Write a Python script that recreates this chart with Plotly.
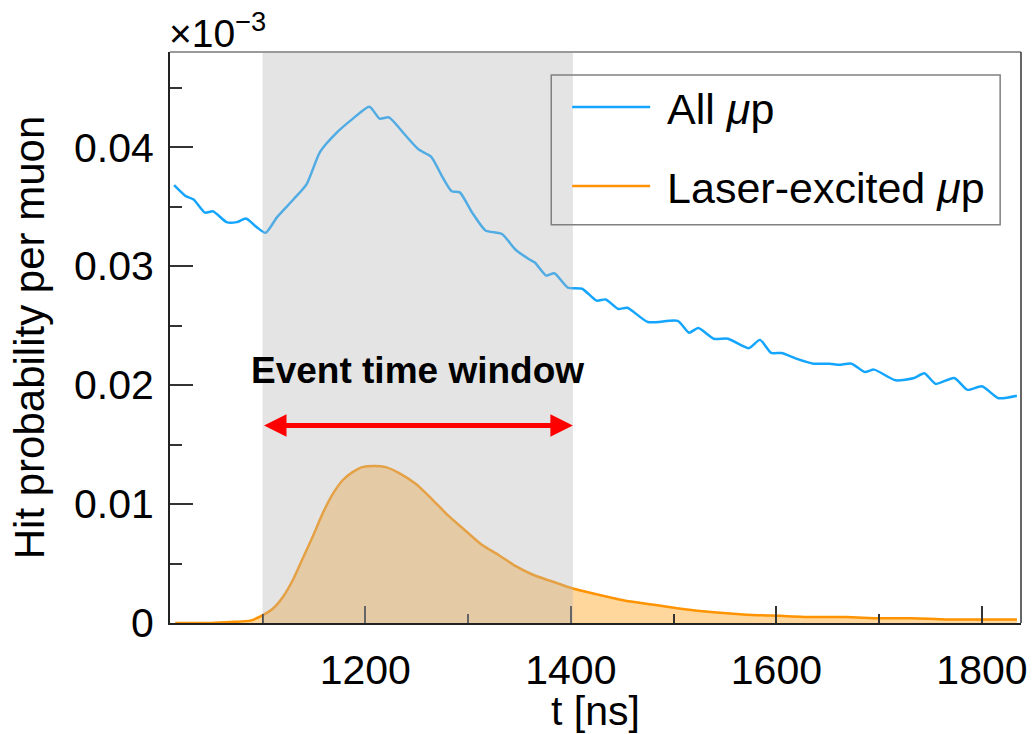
import plotly.graph_objects as go

# Time axis (ns) and hit probability per muon for all muonic hydrogen
t_all = [1014, 1025, 1033, 1044, 1052, 1065, 1075, 1084, 1094, 1103, 1114, 1130,
         1143, 1156, 1172, 1188, 1204, 1214, 1223, 1239, 1252, 1264, 1275, 1284,
         1292, 1304, 1317, 1333, 1346, 1359, 1365, 1376, 1384, 1397, 1411, 1425,
         1434, 1446, 1455, 1475, 1504, 1515, 1524, 1539, 1553, 1573, 1584, 1595,
         1605, 1620, 1636, 1652, 1661, 1673, 1686, 1695, 1716, 1734, 1744, 1755,
         1773, 1786, 1800, 1816, 1834]
p_all = [0.0368, 0.0359, 0.0356, 0.0345, 0.0346, 0.0337, 0.0337, 0.0340, 0.0333,
         0.0328, 0.0341, 0.0356, 0.0369, 0.0396, 0.0412, 0.0424, 0.0434, 0.0424,
         0.0425, 0.0410, 0.0398, 0.0392, 0.0375, 0.0363, 0.0362, 0.0345, 0.0330,
         0.0327, 0.0314, 0.0306, 0.0303, 0.0292, 0.0294, 0.0282, 0.0281, 0.0271,
         0.0272, 0.0264, 0.0265, 0.0253, 0.0254, 0.0244, 0.0248, 0.0239, 0.0239,
         0.0231, 0.0238, 0.0227, 0.0227, 0.0222, 0.0218, 0.0218, 0.0217, 0.0218,
         0.0211, 0.0213, 0.0204, 0.0206, 0.0210, 0.0201, 0.0206, 0.0196, 0.0199,
         0.0189, 0.0191]

# Laser-excited muonic hydrogen
t_laser = [1015, 1050, 1072, 1088, 1099, 1110, 1120, 1130, 1139, 1149, 1159, 1168,
           1178, 1188, 1197, 1209, 1220, 1233, 1249, 1265, 1281, 1297, 1313, 1330,
           1346, 1362, 1378, 1402, 1426, 1452, 1475, 1507, 1539, 1571, 1603, 1636,
           1668, 1700, 1732, 1765, 1797, 1834]
p_laser = [0.0000, 0.0000, 0.0001, 0.0002, 0.0006, 0.0012, 0.0022, 0.0037, 0.0054,
           0.0073, 0.0093, 0.0108, 0.0120, 0.0127, 0.0131, 0.0132, 0.0131, 0.0126,
           0.0117, 0.0104, 0.0090, 0.0078, 0.0066, 0.0057, 0.0048, 0.0041, 0.0036,
           0.0029, 0.0024, 0.0019, 0.0016, 0.0012, 0.0009, 0.0007, 0.0006, 0.0005,
           0.0005, 0.0004, 0.0004, 0.0003, 0.0003, 0.0003]

event_window = [1100, 1402]   # ns
arrow_level = 0.0166
label_level = 0.0212

FONT = "Liberation Sans, Arial, Helvetica, sans-serif"
BLUE = "#14a5ff"
ORANGE = "#ff9300"
NBSP = "\u00a0"

fig = go.Figure()

fig.add_trace(go.Scatter(
    x=t_all, y=p_all, mode="lines", name=NBSP + "All <i>μ</i>p",
    line=dict(color=BLUE, width=2.5, shape="spline", smoothing=0.6),
    legendgroup="a",
))
# Shaded area under the laser-excited curve (kept out of the legend)
fig.add_trace(go.Scatter(
    x=t_laser, y=p_laser, mode="lines", showlegend=False, hoverinfo="skip",
    line=dict(color="rgba(0,0,0,0)", width=0, shape="spline", smoothing=0.6),
    fill="tozeroy", fillcolor="rgba(255,160,20,0.42)",
))
fig.add_trace(go.Scatter(
    x=t_laser, y=p_laser, mode="lines", name=NBSP + "Laser-excited <i>μ</i>p",
    line=dict(color=ORANGE, width=2.5, shape="spline", smoothing=0.6),
    legendgroup="b",
))

# Translucent band marking the event time window
fig.add_shape(type="rect", xref="x", yref="paper",
              x0=event_window[0], x1=event_window[1], y0=0, y1=1,
              fillcolor="rgba(185,185,185,0.38)", line=dict(width=0),
              layer="above")

# Box edges on top and right
fig.add_shape(type="line", xref="paper", yref="paper", x0=0, x1=1, y0=1, y1=1,
              line=dict(color="#9a9a9a", width=2))
fig.add_shape(type="line", xref="paper", yref="paper", x0=1, x1=1, y0=0, y1=1,
              line=dict(color="#333333", width=1.5))

# Legend frame
fig.add_shape(type="rect", xref="paper", yref="paper",
              x0=0.448, x1=0.9755, y0=0.6976, y1=0.9598,
              line=dict(color="#808080", width=1.5), fillcolor="rgba(0,0,0,0)",
              layer="above")

# Double-headed arrow spanning the window
fig.add_annotation(x=event_window[1], y=arrow_level, ax=event_window[0], ay=arrow_level,
                   xref="x", yref="y", axref="x", ayref="y", text="",
                   showarrow=True, arrowhead=2, startarrowhead=2,
                   arrowside="end+start", arrowsize=0.9, startarrowsize=0.9,
                   arrowwidth=5, arrowcolor="#ff0000", standoff=0, startstandoff=0)
fig.add_annotation(x=(event_window[0] + event_window[1]) / 2, y=label_level,
                   xref="x", yref="y", text="<b>Event time window</b>",
                   showarrow=False, font=dict(family=FONT, size=37, color="black"))

# Exponent marker above the y axis
fig.add_annotation(x=0, y=1, xref="paper", yref="paper", xanchor="left",
                   yanchor="bottom", yshift=-5, xshift=-3,
                   text="×10<sup>−3</sup>", showarrow=False,
                   font=dict(family=FONT, size=39, color="black"))

axis_common = dict(
    showgrid=False, zeroline=False, showline=True,
    linecolor="#222222", linewidth=2,
    ticks="inside", tickcolor="#333333", tickwidth=1.5,
    tickfont=dict(family=FONT, size=41, color="black"),
)

fig.update_layout(
    width=1035, height=734,
    margin=dict(l=170, r=8, t=52, b=110),
    paper_bgcolor="white", plot_bgcolor="white",
    font=dict(family=FONT, color="black"),
    xaxis=dict(
        range=[1010, 1838], dtick=200, tick0=0, ticklen=17, ticklabelstandoff=10,
        minor=dict(dtick=100, ticks="inside", ticklen=9, tickcolor="#333333", tickwidth=1.5),
        title=dict(text="t [ns]", font=dict(family=FONT, size=41), standoff=4),
        **axis_common,
    ),
    yaxis=dict(
        range=[0, 0.048], dtick=0.01, tick0=0, ticklen=23, ticklabelstandoff=6,
        minor=dict(dtick=0.005, ticks="inside", ticklen=12, tickcolor="#333333", tickwidth=1.5),
        title=dict(text="Hit probability per muon", font=dict(family=FONT, size=42), standoff=16),
        **axis_common,
    ),
    showlegend=True,
    legend=dict(
        x=0.4667, y=0.964, xanchor="left", yanchor="top",
        bgcolor="rgba(0,0,0,0)", borderwidth=0,
        font=dict(family=FONT, size=43, color="black"),
        traceorder="grouped", tracegroupgap=20, itemwidth=78,
    ),
)

fig.write_html("out.html")
